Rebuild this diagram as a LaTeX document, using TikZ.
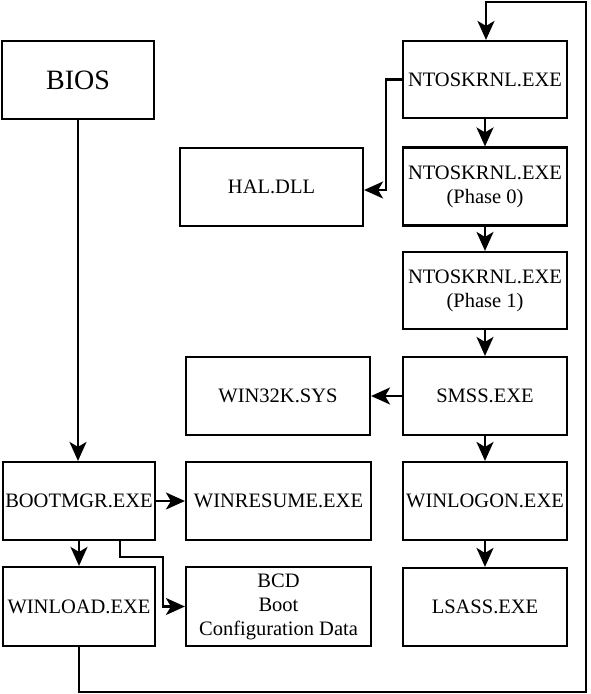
\documentclass[tikz,border=0pt]{standalone}
\usepackage{fontspec}
\setmainfont{Liberation Serif}
\usetikzlibrary{arrows.meta}
\begin{document}
\begin{tikzpicture}[x=1pt,y=-1pt,
  box/.style={draw, line width=2.2pt, inner sep=0pt, align=center, font=\fontsize{20.5}{24}\selectfont},
  conn/.style={line width=2.2pt, -{Stealth[length=19pt,width=17pt,inset=5pt]}},
  plain/.style={line width=2.2pt}]
\useasboundingbox (0,0) rectangle (590,694);
% left column
\node[box, minimum width=152pt, minimum height=78pt, font=\fontsize{28}{30}\selectfont] (bios) at (78,80) {BIOS};
\node[box, minimum width=152pt, minimum height=78pt] (bootmgr) at (79,501) {BOOTMGR.EXE};
\node[box, minimum width=152pt, minimum height=79pt] (winload) at (79,606.5) {WINLOAD.EXE};
% middle column
\node[box, minimum width=185pt, minimum height=78pt] (winresume) at (278.5,501) {WINRESUME.EXE};
\node[box, minimum width=185pt, minimum height=79pt] (bcd) at (278.5,606.5) {BCD\\Boot\\Configuration Data};
\node[box, minimum width=183pt, minimum height=78pt] (hal) at (271.5,187) {HAL.DLL};
\node[box, minimum width=184pt, minimum height=78pt] (win32k) at (278,396) {WIN32K.SYS};
% right column
\node[box, minimum width=164pt, minimum height=77pt] (nt) at (485,79.5) {NTOSKRNL.EXE};
\node[box, minimum width=164pt, minimum height=78pt] (nt0) at (485,186.5) {NTOSKRNL.EXE\\(Phase 0)};
\node[box, minimum width=164pt, minimum height=77pt] (nt1) at (485,290.5) {NTOSKRNL.EXE\\(Phase 1)};
\node[box, minimum width=164pt, minimum height=78pt] (smss) at (485,396) {SMSS.EXE};
\node[box, minimum width=164pt, minimum height=78pt] (winlogon) at (485,501) {WINLOGON.EXE};
\node[box, minimum width=164pt, minimum height=78pt] (lsass) at (485,607) {LSASS.EXE};
% connectors
\draw[conn] (bios.south) -- (bios.south |- bootmgr.north);
\draw[conn] (bootmgr.east) -- (winresume.west);
\draw[conn] (bootmgr.south) -- (winload.north);
\draw[conn] (bootmgr.south -| 120,0) |- (163,557) |- (bcd.west);
\draw[conn] (winload.south) |- (586,692) |- (486,2) -- (nt.north -| 486,0);
\draw[conn] (nt.west) -| (386,190) -- (hal.east |- 0,190);
\draw[conn] (nt.south) -- (nt0.north);
\draw[conn] (nt0.south) -- (nt1.north);
\draw[conn] (nt1.south) -- (smss.north);
\draw[conn] (smss.west) -- (win32k.east);
\draw[conn] (smss.south) -- (winlogon.north);
\draw[conn] (winlogon.south) -- (lsass.north);
\end{tikzpicture}
\end{document}
